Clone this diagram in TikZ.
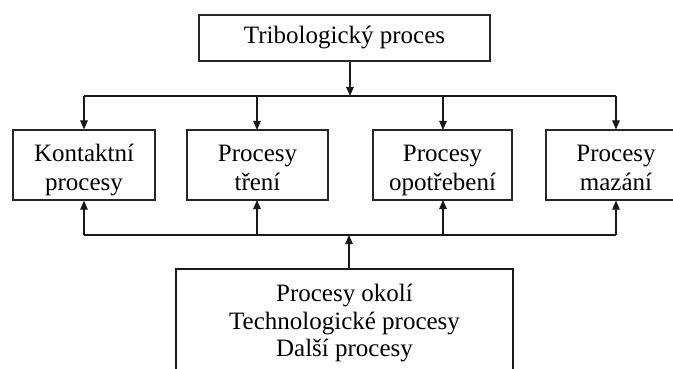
\documentclass[tikz,border=0pt]{standalone}
\usepackage{fontspec}
\setmainfont{Liberation Serif}
\usetikzlibrary{arrows.meta}
\begin{document}
\begin{tikzpicture}[x=1pt,y=-1pt,
  box/.style={draw=black!85, line width=1.2pt, inner sep=0pt},
  txt/.style={align=center, inner sep=0pt, text=black,
    font=\fontsize{25}{29.5}\selectfont},
  conn/.style={line width=1.2pt, draw=black!90},
  arr/.style={conn, -{Triangle[length=9pt,width=7.5pt]}}]
\useasboundingbox (0,0) rectangle (673,369);
\fill[white] (0,0) rectangle (673,369);
% top
\node[box, minimum width=291pt, minimum height=46pt] (top) at (344.5,38) {};
\node[txt] (topt) at (344.5,37.5) {Tribologický proces\strut};
% row
\node[box, minimum width=142pt, minimum height=70pt] (k) at (84,165) {};
\node[box, minimum width=141pt, minimum height=70pt] (t) at (257.5,165) {};
\node[box, minimum width=139pt, minimum height=70pt] (o) at (442.5,165) {};
\node[box, minimum width=140pt, minimum height=70pt] (m) at (616,165) {};
\node[txt] (kt) at (84,170.3) {Kontaktní\strut\\procesy\strut};
\node[txt] (tt) at (257.5,170.3) {Procesy\strut\\tření\strut};
\node[txt] (ot) at (442.5,170.3) {Procesy\strut\\opotřebení\strut};
\node[txt] (mt) at (616,170.3) {Procesy\strut\\mazání\strut};
% bottom box (open at bottom)
\coordinate (bl) at (176,372);
\coordinate (br) at (513,372);
\coordinate (envtop) at (349,269);
\draw[conn] (bl) |- (envtop) -| (br);
\node[txt, font=\fontsize{25}{27.5}\selectfont] (env) at (344.5,323.7)
  {Procesy okolí\strut\\Technologické procesy\strut\\Další procesy\strut};
% upper distribution
\coordinate (j1) at (350,96);
\draw[arr] (top.south -| j1) -- (j1);
\draw[conn] (84,96) -- (616,96);
\draw[arr] (84,96) -- (k.north);
\draw[arr] (257,96) -- (257,130);
\draw[arr] (443,96) -- (443,130);
\draw[arr] (616,96) -- (m.north);
% lower collection
\coordinate (j2) at (349,235);
\draw[arr] (envtop) -- (j2);
\draw[conn] (84,235) -- (616,235);
\draw[arr] (84,235) -- (k.south);
\draw[arr] (257,235) -- (257,200);
\draw[arr] (443,235) -- (443,200);
\draw[arr] (616,235) -- (m.south);
\end{tikzpicture}
\end{document}
